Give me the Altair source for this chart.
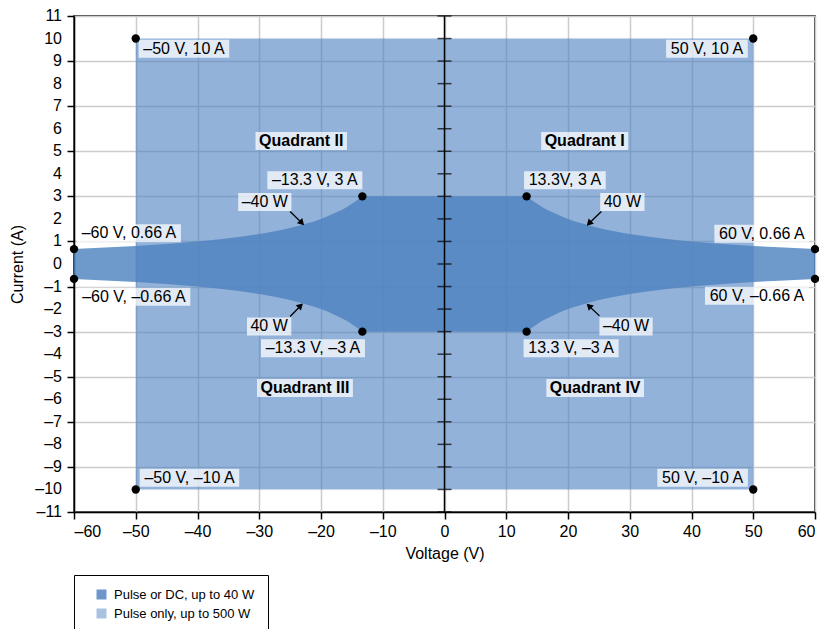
import altair as alt
import pandas as pd

# ---------------- data ----------------
# 40 W boundary (positive-voltage half)
curve_v = [13.3, 14, 15, 16, 17.5, 20, 22.5, 25, 30, 35, 40, 45, 50, 55, 60]
curve_i = [3.0, 2.86, 2.67, 2.5, 2.29, 2.0, 1.78, 1.6, 1.33, 1.14, 1.0, 0.89, 0.8, 0.73, 0.66]

# pulse-only envelope
pulse_v = [-50, 50]
pulse_i = [-10, 10]

# marked corner points
pt_v = [-50, 50, -50, 50, -13.3, 13.3, -13.3, 13.3, -60, -60, 60, 60]
pt_i = [10, 10, -10, -10, 3, 3, -3, -3, 0.66, -0.66, 0.66, -0.66]

# annotation labels (text, centre voltage, centre current, bold)
lab_text = ["–50 V, 10 A", "50 V, 10 A", "Quadrant II", "Quadrant I",
            "–13.3 V, 3 A", "–40 W", "13.3V, 3 A", "40 W",
            "–60 V, 0.66 A", "60 V, 0.66 A", "–60 V, –0.66 A", "60 V, –0.66 A",
            "40 W", "–13.3 V, –3 A", "Quadrant III", "–40 W",
            "13.3 V, –3 A", "Quadrant IV", "–50 V, –10 A", "50 V, –10 A"]
lab_v = [-42.2, 42.5, -23.2, 22.7,
         -21.0, -29.1, 19.5, 28.8,
         -51.1, 51.4, -50.3, 50.6,
         -28.4, -21.3, -22.6, 29.4,
         20.5, 24.4, -41.3, 41.8]
lab_i = [9.55, 9.55, 5.46, 5.46,
         3.72, 2.75, 3.72, 2.75,
         1.36, 1.34, -1.45, -1.41,
         -2.77, -3.74, -5.5, -2.77,
         -3.74, -5.5, -9.48, -9.48]
lab_bold = [False, False, True, True,
            False, False, False, False,
            False, False, False, False,
            False, False, True, False,
            False, True, False, False]

# arrows (start -> end)
arr_v0 = [-25.0, 25.4, -25.0, 25.1]
arr_i0 = [2.33, 2.33, -2.33, -2.30]
arr_v1 = [-23.1, 23.4, -23.3, 23.4]
arr_i1 = [1.82, 1.80, -1.85, -1.86]
arr_angle = [135, 225, 45, 314]

legend_labels = ["Pulse or DC, up to 40 W", "Pulse only, up to 500 W"]
legend_colors = ["#6f96c8", "#a9c2e2"]

axis_ticks = list(range(-11, 12))
x_ticks = list(range(-60, 61, 10))

# ---------------- layout constants ----------------
W, H = 741, 496
FONT = "Liberation Sans"
LFS = 16
XD = [-60, 60]
YD = [-11, 11]
px_x = W / (XD[1] - XD[0])
px_y = H / (YD[1] - YD[0])

REG = {c: 0.556 for c in "0123456789–"}
REG.update({" ": 0.278, ",": 0.278, ".": 0.278, "V": 0.667, "A": 0.667, "W": 0.944})
BLD = {"Q": 0.778, "u": 0.611, "a": 0.556, "d": 0.611, "r": 0.389, "n": 0.611,
       "t": 0.333, " ": 0.278, "I": 0.278, "V": 0.667}


def text_w(s, bold, size=LFS):
    table = BLD if bold else REG
    return sum(table.get(c, 0.6) for c in s) * size


def fmt(v):
    return ("–" + str(abs(v))) if v < 0 else str(v)


# ---------------- tables ----------------
area_v = [-v for v in reversed(curve_v)] + curve_v
area_hi = list(reversed(curve_i)) + curve_i
area_df = pd.DataFrame({"V": area_v, "hi": area_hi, "lo": [-x for x in area_hi]})

pulse_df = pd.DataFrame({"v0": [pulse_v[0]], "v1": [pulse_v[1]],
                         "i0": [pulse_i[0]], "i1": [pulse_i[1]]})

pts_df = pd.DataFrame({"V": pt_v, "I": pt_i})

boxes = []
for t, v, i, b in zip(lab_text, lab_v, lab_i, lab_bold):
    hw = (text_w(t, b) + 7) / 2 / px_x
    hh = 18 / 2 / px_y
    boxes.append({"text": t, "V": v, "I": i, "bold": b,
                  "v0": v - hw, "v1": v + hw, "i0": i - hh, "i1": i + hh})
lab_df = pd.DataFrame(boxes)

arr_df = pd.DataFrame({"v0": arr_v0, "i0": arr_i0, "v1": arr_v1, "i1": arr_i1,
                       "ang": arr_angle})

tick_df = pd.DataFrame({"I": axis_ticks, "V": [0] * len(axis_ticks)})
ylab_df = pd.DataFrame({"I": axis_ticks, "V": [XD[0]] * len(axis_ticks),
                        "txt": [fmt(v) for v in axis_ticks]})
axis_df = pd.DataFrame({"V": [0], "i0": [YD[0]], "i1": [YD[1]]})
leg_df = pd.DataFrame({"series": legend_labels, "V": [0, 0], "I": [0, 0]})

# ---------------- scales / axes ----------------
neg_expr = "datum.value < 0 ? '–' + abs(datum.value) : '' + datum.value"
xs = alt.Scale(domain=XD, nice=False, zero=False)
ys = alt.Scale(domain=YD, nice=False, zero=False)
common_axis = dict(grid=True, gridColor="#cccccc", gridWidth=1.5,
                   domainColor="black", domainWidth=1.5,
                   tickColor="black", tickWidth=1.5, tickSize=7,
                   labelFont=FONT, labelFontSize=16, labelColor="black",
                   titleFont=FONT, titleFontSize=16, titleFontWeight="normal",
                   titleColor="black")
x_axis = alt.Axis(values=x_ticks, title="Voltage (V)", labelExpr=neg_expr,
                  labelPadding=4, titlePadding=6, labelOverlap=False, **common_axis)
y_axis = alt.Axis(values=axis_ticks, title="Current (A)", labels=False,
                  titlePadding=41, **common_axis)

base_pulse = alt.Chart(pulse_df).mark_rect(color="#4a7fc0", opacity=0.6).encode(
    x=alt.X("v0:Q", scale=xs, axis=x_axis),
    x2="v1:Q",
    y=alt.Y("i0:Q", scale=ys, axis=y_axis),
    y2="i1:Q",
)

dc_area = alt.Chart(area_df).mark_area(color="#4e83bf", opacity=0.82,
                                       interpolate="monotone").encode(
    x="V:Q", y="hi:Q", y2="lo:Q")

center_axis = alt.Chart(axis_df).mark_rule(color="black", strokeWidth=1.5).encode(
    x="V:Q", y="i0:Q", y2="i1:Q")
center_ticks = alt.Chart(tick_df).mark_tick(color="black", orient="horizontal",
                                            size=14, thickness=1.5).encode(
    x="V:Q", y="I:Q")

y_labels = alt.Chart(ylab_df).mark_text(font=FONT, fontSize=16, color="black",
                                        align="right", baseline="middle",
                                        dx=-12).encode(
    x="V:Q", y="I:Q", text="txt:N")

arrows = alt.Chart(arr_df).mark_rule(color="black", strokeWidth=1.3).encode(
    x="v0:Q", y="i0:Q", x2="v1:Q", y2="i1:Q")
heads = alt.Chart(arr_df).mark_point(shape="triangle-up", filled=True, color="black",
                                     size=55, opacity=1).encode(
    x="v1:Q", y="i1:Q", angle=alt.Angle("ang:Q", scale=None))

boxes_l = alt.Chart(lab_df).mark_rect(color="white", opacity=0.72).encode(
    x="v0:Q", x2="v1:Q", y="i0:Q", y2="i1:Q")

texts = alt.Chart(lab_df).transform_filter("!datum.bold").mark_text(
    font=FONT, fontSize=LFS, color="black", align="center", baseline="middle").encode(
    x="V:Q", y="I:Q", text="text:N")
texts_b = alt.Chart(lab_df).transform_filter("datum.bold").mark_text(
    font=FONT, fontSize=LFS, fontWeight="bold", color="black", align="center",
    baseline="middle").encode(x="V:Q", y="I:Q", text="text:N")

points = alt.Chart(pts_df).mark_circle(color="black", size=70, opacity=1).encode(
    x="V:Q", y="I:Q")

legend_layer = alt.Chart(leg_df).mark_square(opacity=0, size=1).encode(
    x="V:Q", y="I:Q",
    color=alt.Color("series:N",
                    scale=alt.Scale(domain=legend_labels, range=legend_colors),
                    legend=alt.Legend(title=None, orient="none", legendX=0, legendY=559,
                                      strokeColor="black", fillColor="white",
                                      padding=13, symbolType="square", symbolSize=100,
                                      symbolOpacity=1, symbolStrokeWidth=0,
                                      symbolOffset=8, labelFont=FONT, labelFontSize=13,
                                      labelColor="black", labelOffset=6, rowPadding=5,
                                      cornerRadius=0)))

chart = alt.layer(
    base_pulse, dc_area, center_axis, center_ticks, y_labels, arrows, heads,
    boxes_l, texts, texts_b, points, legend_layer
).properties(
    width=W, height=H,
    autosize=alt.AutoSizeParams(type="none"),
    padding={"left": 66, "top": 8, "right": 4, "bottom": 118},
).configure_view(
    stroke="black", strokeWidth=1.5
)

chart.save("out.html", embed_options={"renderer": "svg", "actions": False})
